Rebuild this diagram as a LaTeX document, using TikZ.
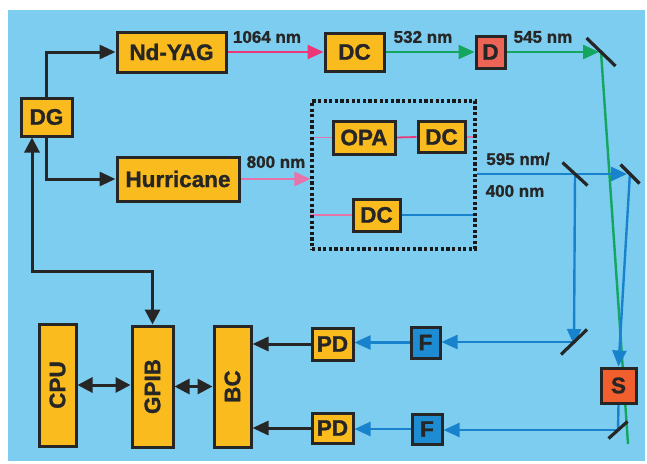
\documentclass[tikz,border=0pt]{standalone}
\usepackage{fontspec}
\setmainfont{Liberation Sans}[BoldFeatures={FakeBold=1.2}]
\usetikzlibrary{arrows.meta,calc}
\pgfdeclarelayer{bglayer}
\pgfdeclarelayer{beams}
\pgfsetlayers{bglayer,beams,main}
\definecolor{bgblue}{RGB}{125,205,240}
\definecolor{boxyellow}{RGB}{250,187,30}
\definecolor{dred}{RGB}{236,100,85}
\definecolor{sred}{RGB}{240,95,45}
\definecolor{fblue}{RGB}{30,140,210}
\definecolor{beamblue}{RGB}{25,130,205}
\definecolor{beamgreen}{RGB}{20,165,95}
\definecolor{beampink}{RGB}{235,55,120}
\definecolor{lightpink}{RGB}{230,115,170}
\tikzset{
  box/.style={draw=black!85, line width=3pt, fill=boxyellow, inner sep=0pt,
    font=\fontsize{22.5}{24}\selectfont\bfseries, text=black!85},
  lbl/.style={font=\fontsize{17}{19}\selectfont\bfseries, text=black!85, inner sep=0pt},
  tip/.style={-{Triangle[length=16pt,width=14pt]}},
  dtip/.style={{Triangle[length=15pt,width=15pt]}-{Triangle[length=15pt,width=15pt]}},
  blk/.style={draw=black!85, line width=3pt},
  bblue/.style={draw=beamblue, line width=2.4pt},
  bgreen/.style={draw=beamgreen, line width=2.4pt},
  bpink/.style={draw=beampink, line width=2.4pt},
  lpink/.style={draw=lightpink, line width=1.8pt},
  mirror/.style={draw=black!85, line width=3.2pt},
}
\begin{document}
\begin{tikzpicture}[x=1pt,y=-1pt]
\useasboundingbox (0,0) rectangle (647,463);
\begin{pgfonlayer}{bglayer}
\fill[white] (0,0) rectangle (647,463);
\fill[bgblue] (8,10) rectangle (645,461);
\end{pgfonlayer}

% nodes
\node[box, minimum width=109pt, minimum height=40pt] (ndyag) at (171.5,52) {Nd-YAG};
\node[box, minimum width=59pt, minimum height=38pt] (dc1) at (354.5,52) {DC};
\node[box, fill=dred, minimum width=29pt, minimum height=32pt] (d) at (490.5,52) {D};
\node[box, minimum width=51pt, minimum height=38pt] (dg) at (46.5,117) {DG};
\node[box, minimum width=122pt, minimum height=44pt] (hurr) at (178,179) {Hurricane};
\node[draw=black!90, line width=3.2pt, dash pattern=on 3.2pt off 2.4pt, minimum width=163pt, minimum height=148pt, inner sep=0pt] (opbox) at (393.5,175) {};
\node[box, minimum width=62pt, minimum height=33pt] (opa) at (364,137.5) {OPA};
\node[box, minimum width=47pt, minimum height=31pt] (dc2) at (441.5,137) {DC};
\node[box, minimum width=47pt, minimum height=32pt] (dc3) at (376.5,215) {DC};
\node[box, minimum width=122pt, minimum height=37pt, rotate=90] (cpu) at (57.5,385) {CPU};
\node[box, minimum width=121pt, minimum height=41pt, rotate=90] (gpib) at (152.5,386.5) {GPIB};
\node[box, minimum width=121pt, minimum height=37pt, rotate=90] (bc) at (232.5,386.5) {BC};
\node[box, minimum width=41pt, minimum height=32pt] (pd1) at (332.5,344) {PD};
\node[box, minimum width=41pt, minimum height=30pt] (pd2) at (332.5,428) {PD};
\node[box, fill=fblue, minimum width=29pt, minimum height=31pt] (f1) at (425.5,342.5) {F};
\node[box, fill=fblue, minimum width=30pt, minimum height=30pt] (f2) at (427,429) {F};
\node[box, fill=sred, minimum width=35pt, minimum height=35pt] (s) at (618.5,385.5) {S};

% mirrors
\coordinate (m1) at (601,52);
\coordinate (m2) at (575,174);
\coordinate (m3) at (630,174);
\coordinate (m4) at (574,342);
\coordinate (m5) at (618,430);
\coordinate (gend) at (628,444);
\coordinate (lp) at (32,271);

% labels
\node[lbl] (l1064) at (267,37) {1064 nm};
\node[lbl] (l532) at (423,37) {532 nm};
\node[lbl] (l545) at (543,37) {545 nm};
\node[lbl] (l800) at (276,162) {800 nm};
\node[lbl] (l595) at (518,159) {595 nm/};
\node[lbl] (l400) at (515,191) {400 nm};

% beams
\begin{pgfonlayer}{beams}
\draw[bpink, tip] (ndyag.east) -- (dc1.west);
\draw[bgreen, tip] (dc1.east) -- (d.west);
\draw[bgreen, tip] (d.east) -- ([xshift=-2pt]m1);
\draw[bgreen] (m1) -- (gend);
\draw[lpink, line width=2.4pt, -{Triangle[length=16pt,width=14pt,fill=lightpink]}] (hurr.east) -- (hurr.east -| opbox.west);
\draw[lpink] (opa.west -| opbox.west) -- (opa.west);
\draw[bpink, line width=1.8pt] (opa.east) -- (dc2.west);
\draw[lpink] (dc2.east) -- (dc2.east -| opbox.east);
\draw[lpink] (dc3.west -| opbox.west) -- (dc3.west);
\draw[bblue] (dc3.east) -- (dc3.east -| opbox.east);
\draw[bblue, line width=2.6pt, tip] (opbox.east |- m3) -- ([xshift=-3pt]m3);
\draw[bblue, tip] ([yshift=1pt]m2) -- ([yshift=-3pt]m4);
\draw[bblue, tip] (m4) -- (m4 -| f1.east);
\draw[bblue, tip] (f1.west) -- (f1.west -| pd1.east);
\draw[bblue, tip] ([yshift=2pt]m3) -- (s.north);
\draw[bblue] (s.south) -- (m5);
\draw[bblue, tip] (m5) -- (m5 -| f2.east);
\draw[bblue, tip] (f2.west) -- (f2.west -| pd2.east);
\end{pgfonlayer}

% mirror lines
\draw[mirror] ($(m1)+(-14.5,-14)$) -- ($(m1)+(14.5,14)$);
\draw[mirror] ($(m2)+(-12.5,-11.5)$) -- ($(m2)+(12.5,11.5)$);
\draw[mirror] ($(m3)+(-9.5,-9.5)$) -- ($(m3)+(9.5,9.5)$);
\draw[mirror] ($(m4)+(-13,12.5)$) -- ($(m4)+(13,-12.5)$);
\draw[mirror] ($(m5)+(-9.5,8.5)$) -- ($(m5)+(9.5,-8.5)$);

% black connectors
\draw[blk, tip] (dg.north) |- (ndyag.west);
\draw[blk, tip] (dg.south) |- (hurr.west);
\draw[blk, dtip] (dg.south -| lp) |- (gpib.east |- lp) -- (gpib.east);
\draw[blk, dtip] (cpu.south) -- (cpu.south -| gpib.north);
\draw[blk, dtip] (gpib.south) -- (gpib.south -| bc.north);
\draw[blk, tip] (pd1.west) -- (pd1.west -| bc.south);
\draw[blk, tip] (pd2.west) -- (pd2.west -| bc.south);
\end{tikzpicture}
\end{document}
